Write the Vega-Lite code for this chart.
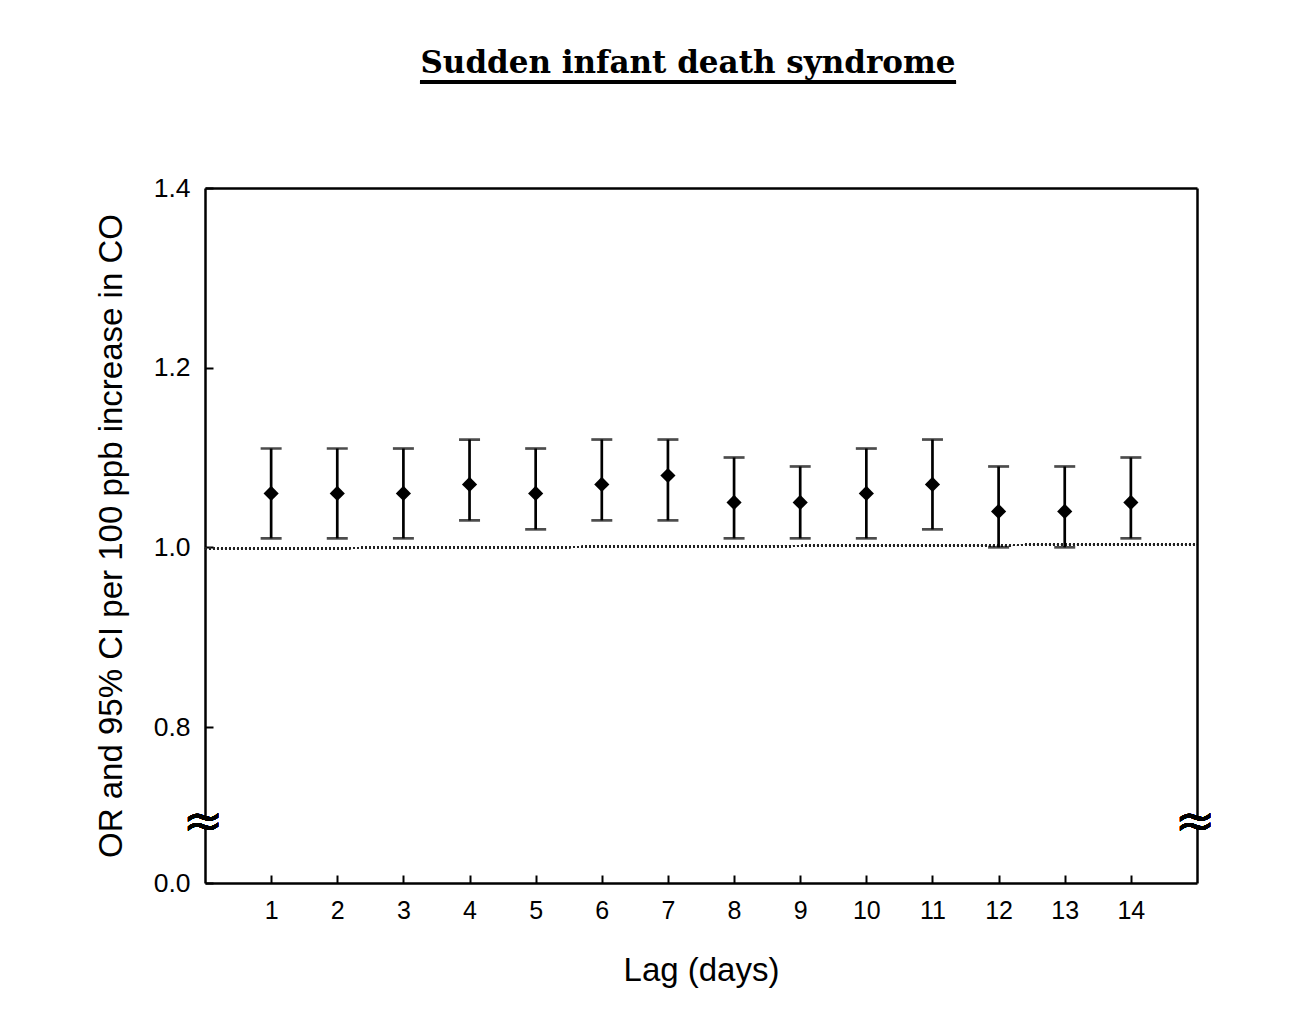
{
  "$schema": "https://vega.github.io/schema/vega-lite/v6.json",
  "width": 992,
  "height": 695,
  "autosize": {"type": "none"},
  "padding": {"left": 205, "top": 188, "right": 94, "bottom": 127},
  "background": "white",
  "config": {
    "view": {"stroke": null},
    "font": "Liberation Sans",
    "axis": {"grid": false, "domainColor": "black", "domainWidth": 2.5, "tickColor": "black", "tickWidth": 2, "labelColor": "black", "titleColor": "black", "labelFont": "Liberation Sans", "titleFont": "Liberation Sans", "titleFontWeight": "normal"}
  },
  "title": {
    "text": "Sudden infant death syndrome",
    "font": "DejaVu Serif",
    "fontSize": 31,
    "fontWeight": "bold",
    "color": "black",
    "anchor": "middle",
    "frame": "group",
    "baseline": "alphabetic",
    "offset": -24,
    "dx": -13
  },
  "data": {
    "values": [
      {"lag": 1, "or": 1.06, "lo": 1.01, "hi": 1.11},
      {"lag": 2, "or": 1.06, "lo": 1.01, "hi": 1.11},
      {"lag": 3, "or": 1.06, "lo": 1.01, "hi": 1.11},
      {"lag": 4, "or": 1.07, "lo": 1.03, "hi": 1.12},
      {"lag": 5, "or": 1.06, "lo": 1.02, "hi": 1.11},
      {"lag": 6, "or": 1.07, "lo": 1.03, "hi": 1.12},
      {"lag": 7, "or": 1.08, "lo": 1.03, "hi": 1.12},
      {"lag": 8, "or": 1.05, "lo": 1.01, "hi": 1.10},
      {"lag": 9, "or": 1.05, "lo": 1.01, "hi": 1.09},
      {"lag": 10, "or": 1.06, "lo": 1.01, "hi": 1.11},
      {"lag": 11, "or": 1.07, "lo": 1.02, "hi": 1.12},
      {"lag": 12, "or": 1.04, "lo": 1.00, "hi": 1.09},
      {"lag": 13, "or": 1.04, "lo": 1.00, "hi": 1.09},
      {"lag": 14, "or": 1.05, "lo": 1.01, "hi": 1.10}
    ]
  },
  "layer": [
    {
      "mark": {"type": "rule", "strokeDash": [2, 2], "strokeWidth": 2.2, "color": "#222222"},
      "encoding": {
        "x": {"datum": 0, "type": "quantitative", "scale": {"domain": [0, 15], "nice": false, "zero": false}, "axis": null},
        "x2": {"datum": 15},
        "y": {"datum": 0.9985, "type": "quantitative", "scale": {"domain": [0, 0.8, 1.4], "range": [695, 539, 0], "nice": false, "zero": false}, "axis": null},
        "y2": {"datum": 1.0035}
      }
    },
    {
      "mark": {"type": "rule", "strokeWidth": 2.7, "color": "black"},
      "encoding": {
        "x": {"field": "lag", "type": "quantitative", "scale": {"domain": [0, 15], "nice": false, "zero": false},
          "axis": {"orient": "bottom", "values": [1,2,3,4,5,6,7,8,9,10,11,12,13,14], "tickSize": -8, "labelFontSize": 25, "labelPadding": 23, "title": "Lag (days)", "titleFontSize": 33, "titlePadding": 31}},
        "y": {"field": "lo", "type": "quantitative", "scale": {"domain": [0, 0.8, 1.4], "range": [695, 539, 0], "nice": false, "zero": false},
          "axis": {"orient": "left", "values": [0, 0.8, 1.0, 1.2, 1.4], "format": ".1f", "tickSize": -8, "labelFontSize": 26.5, "labelPadding": 23, "title": "OR and 95% CI per 100 ppb increase in CO", "titleFontSize": 33, "titlePadding": 25}},
        "y2": {"field": "hi"}
      }
    },
    {
      "mark": {"type": "tick", "orient": "horizontal", "size": 21, "thickness": 2.7, "color": "black"},
      "encoding": {
        "x": {"field": "lag", "type": "quantitative", "axis": null},
        "y": {"field": "lo", "type": "quantitative", "axis": null}
      }
    },
    {
      "mark": {"type": "tick", "orient": "horizontal", "size": 21, "thickness": 2.7, "color": "black"},
      "encoding": {
        "x": {"field": "lag", "type": "quantitative", "axis": null},
        "y": {"field": "hi", "type": "quantitative", "axis": null}
      }
    },
    {
      "mark": {"type": "point", "shape": "diamond", "size": 230, "filled": true, "color": "black", "opacity": 1},
      "encoding": {
        "x": {"field": "lag", "type": "quantitative", "axis": {"orient": "top", "labels": false, "ticks": false, "title": null}},
        "y": {"field": "or", "type": "quantitative", "axis": {"orient": "right", "labels": false, "ticks": false, "title": null}}
      }
    },
    {
      "mark": {"type": "point", "shape": "square", "size": 80, "filled": true, "color": "white", "opacity": 1},
      "encoding": {
        "x": {"datum": 0, "type": "quantitative", "axis": null},
        "y": {"datum": 0.31, "type": "quantitative", "axis": null}
      }
    },
    {
      "mark": {"type": "point", "shape": "square", "size": 80, "filled": true, "color": "white", "opacity": 1},
      "encoding": {
        "x": {"datum": 15, "type": "quantitative", "axis": null},
        "y": {"datum": 0.31, "type": "quantitative", "axis": null}
      }
    },
    {
      "mark": {"type": "text", "text": "≈", "font": "DejaVu Sans", "fontSize": 48, "color": "black", "baseline": "middle", "align": "center", "dx": -2},
      "encoding": {
        "x": {"datum": 0, "type": "quantitative", "axis": null},
        "y": {"datum": 0.31, "type": "quantitative", "axis": null}
      }
    },
    {
      "mark": {"type": "text", "text": "≈", "font": "DejaVu Sans", "fontSize": 48, "color": "black", "baseline": "middle", "align": "center", "dx": -2},
      "encoding": {
        "x": {"datum": 15, "type": "quantitative", "axis": null},
        "y": {"datum": 0.31, "type": "quantitative", "axis": null}
      }
    },
    {
      "mark": {"type": "rule", "strokeWidth": 3.5, "color": "black"},
      "encoding": {
        "x": {"datum": 3.251, "type": "quantitative", "axis": null},
        "x2": {"datum": 11.356},
        "y": {"datum": 1.5178, "type": "quantitative", "axis": null}
      }
    }
  ],
  "resolve": {"axis": {"x": "independent", "y": "independent"}}
}
